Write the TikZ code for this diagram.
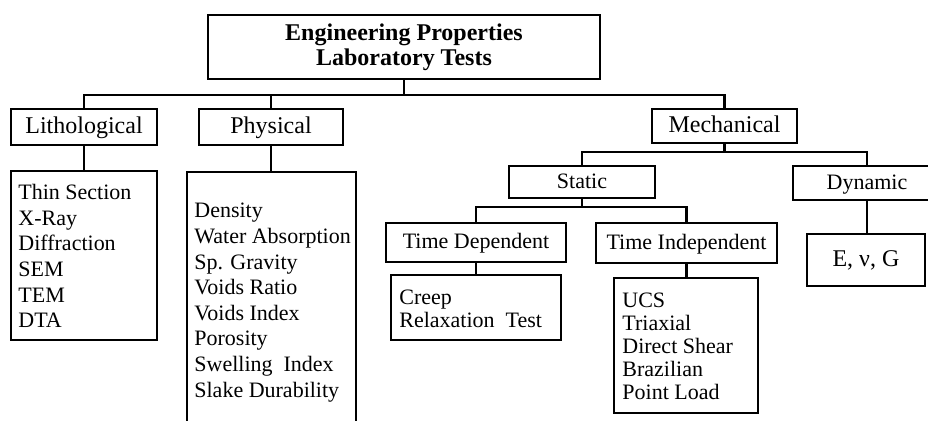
\documentclass[tikz,border=0pt]{standalone}
\usepackage{fontspec}
\setmainfont{Liberation Serif}
\begin{document}
\begin{tikzpicture}[x=0.5pt,y=-0.5pt,
  box/.style={draw,line width=1.35pt,inner sep=0pt,align=center},
  lbl/.style={text height=0.8em,text depth=0.15em},
  big/.style={font=\fontsize{12}{12.5}\selectfont,lbl},
  mid/.style={font=\fontsize{11}{12}\selectfont,lbl},
  listtxt/.style={inner sep=0pt,anchor=north west,align=left},
  conn/.style={line width=1.35pt}]
\useasboundingbox (0,0) rectangle (928,421);
\fill[white] (0,0) rectangle (928,421);
\clip (0,0) rectangle (928,421);

% boxes
\node[box, minimum width=196pt, minimum height=32pt, font=\bfseries\fontsize{12}{12.5}\selectfont] (top) at (404,47) {Engineering Properties\\Laboratory Tests};
\node[box, big, minimum width=73pt, minimum height=18pt] (litho) at (84,127) {Lithological};
\node[box, big, minimum width=72pt, minimum height=18pt] (phys) at (271,127) {Physical};
\node[box, big, minimum width=72.5pt, minimum height=17pt] (mech) at (724.5,126) {Mechanical};
\node[box, mid, minimum width=73pt, minimum height=16pt] (static) at (582,182) {Static};
\node[box, mid, minimum width=74pt, minimum height=17pt] (dyn) at (867,183) {Dynamic};
\node[box, mid, minimum width=90pt, minimum height=19.5pt] (td) at (476,242.5) {Time Dependent};
\node[box, mid, minimum width=90.5pt, minimum height=20pt] (ti) at (686.5,243) {Time Independent};
\node[box, big, minimum width=59pt, minimum height=26pt] (evg) at (866,260) {E, ν, G};

% list boxes
\node[box, minimum width=73pt, minimum height=84.5pt] (litholist) at (84,255.5) {};
\node[box, minimum width=84.5pt, minimum height=134pt] (physlist) at (271.5,306) {};
\node[box, minimum width=85pt, minimum height=32.5pt] (creep) at (476,307.5) {};
\node[box, minimum width=72pt, minimum height=67.5pt] (ucs) at (686,345.5) {};

% list texts
\node[listtxt, font=\fontsize{11}{12.8}\selectfont] (lithotxt) at (18,184)
  {Thin Section\\X-Ray\\Diffraction\\SEM\\TEM\\DTA};
\node[listtxt, font=\fontsize{11}{12.8}\selectfont] (phystxt) at (194,203)
  {Density\\Water Absorption\\Sp. Gravity\\Voids Ratio\\Voids Index\\Porosity\\Swelling~ Index\\Slake Durability};
\node[listtxt, font=\fontsize{11}{11.3}\selectfont] (creeptxt) at (399,290)
  {Creep\\Relaxation~ Test};
\node[listtxt, font=\fontsize{11}{11.4}\selectfont] (ucstxt) at (622,293)
  {UCS\\Triaxial\\Direct Shear\\Brazilian\\Point Load};

% connectors
\coordinate (bus1) at (404,95);
\coordinate (bus2) at (725,152);
\coordinate (bus3) at (582,207);
\draw[conn] (top.south) -- (bus1);
\draw[conn] (litho.north) |- (bus1 -| mech.north) -- (mech.north);
\draw[conn] (phys.north) -- (phys.north |- bus1);
\draw[conn] (mech.south) -- (mech.south |- bus2);
\draw[conn] (static.north) |- (bus2 -| dyn.north) -- (dyn.north);
\draw[conn] (static.south) -- (static.south |- bus3);
\draw[conn] (td.north) |- (bus3 -| ti.north) -- (ti.north);
\draw[conn] (litho.south) -- (litho.south |- litholist.north);
\draw[conn] (phys.south) -- (phys.south |- physlist.north);
\draw[conn] (td.south) -- (td.south |- creep.north);
\draw[conn] (ti.south) -- (ti.south |- ucs.north);
\draw[conn] (dyn.south) -- (dyn.south |- evg.north);
\end{tikzpicture}
\end{document}
